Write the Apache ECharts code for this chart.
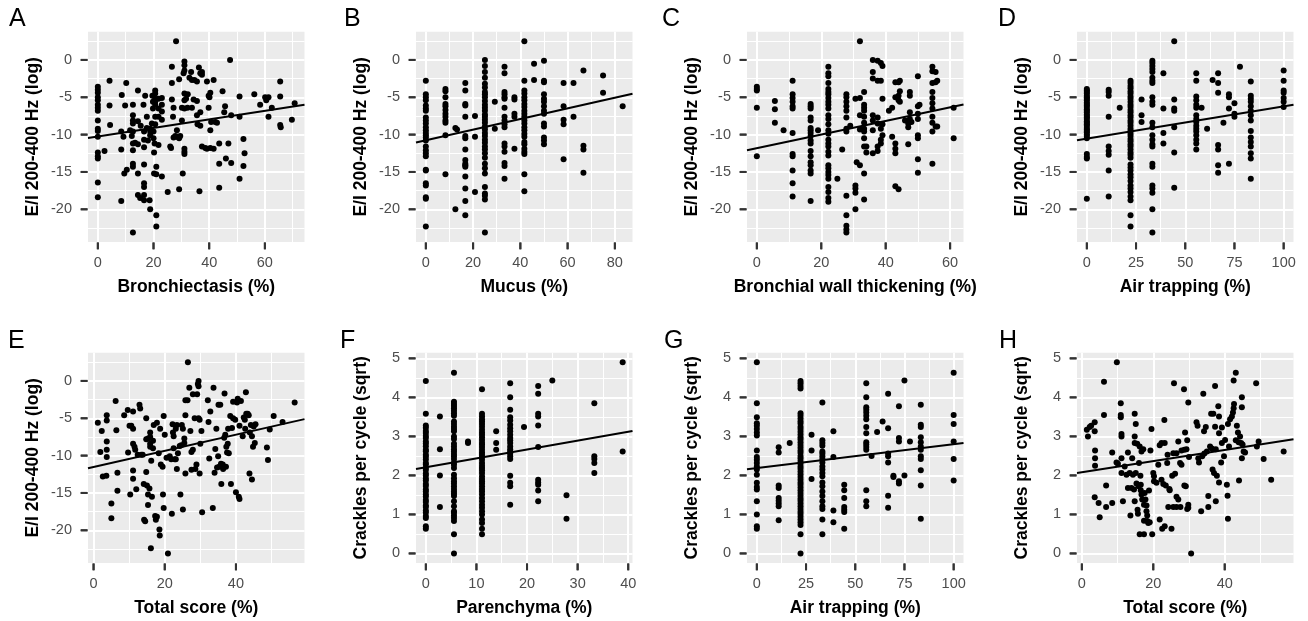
<!DOCTYPE html>
<html><head><meta charset="utf-8">
<script src="https://cdn.jsdelivr.net/npm/echarts@6/dist/echarts.min.js"></script>
<style>html,body{margin:0;padding:0;background:#fff}#c{width:1308px;height:621px}</style>
</head><body><div id="c"></div><script>
// ---------------- DATA ----------------
const panelLetters = ['A','B','C','D','E','F','G','H'];
const xTitles = ['Bronchiectasis (%)','Mucus (%)','Bronchial wall thickening (%)','Air trapping (%)','Total score (%)','Parenchyma (%)','Air trapping (%)','Total score (%)'];
const yTitles = ['E/I 200-400 Hz (log)','E/I 200-400 Hz (log)','E/I 200-400 Hz (log)','E/I 200-400 Hz (log)','E/I 200-400 Hz (log)','Crackles per cycle (sqrt)','Crackles per cycle (sqrt)','Crackles per cycle (sqrt)'];
const xMajorTicks = [[0,20,40,60],[0,20,40,60,80],[0,20,40,60],[0,25,50,75,100],[0,20,40],[0,10,20,30,40],[0,25,50,75,100],[0,20,40]];
const xMinorTicks = [[10,30,50,70],[10,30,50,70],[10,30,50],[12.5,37.5,62.5,87.5],[10,30,50],[5,15,25,35],[12.5,37.5,62.5,87.5],[10,30,50]];
const yMajorEI = [-20,-15,-10,-5,0];
const yMinorEI = [-22.5,-17.5,-12.5,-7.5,-2.5,2.5];
const yMajorCr = [0,1,2,3,4,5];
const yMinorCr = [0.5,1.5,2.5,3.5,4.5];
const fitIntercepts = [-10.25,-10.77,-11.81,-10.54,-11.53,2.21,2.19,2.08];
const fitSlopes = [0.0573,0.0713,0.0911,0.0433,0.1082,0.0227,0.00609,0.01433];

const pointsA = [[0,-3.6],[0,-4.0],[0,-4.4],[0,-5.0],[0,-5.4],[0,-6.0],[0,-6.4],[0,-6.8],[0,-8.1],[0,-9.2],[0,-9.5],[0,-10.3],[0,-12.4],[0,-12.9],[0,-13.2],[0,-16.4],[0,-18.4],
[2.4,-12.2],[4.2,-2.8],[4.2,-6.1],[4.4,-8.7],[8.4,-9.6],[8.4,-12.0],[8.4,-18.9],[8.6,-4.7],[9.2,-10.3],[10.2,-3.1],[9.8,-6.1],[9.5,-15.2],[10.4,-14.7],[11.6,-9.4],[12.2,-10.2],[12.6,-6.0],[12.6,-7.4],[12.6,-8.1],[12.6,-8.5],[12.6,-9.6],[12.6,-11.2],[12.6,-12.1],[12.6,-13.9],[12.6,-14.3],[12.6,-23.1],[13.4,-11.1],[14.4,-4.1],[14.4,-8.2],[14.4,-11.3],[14.4,-15.2],[14.4,-18.1],[15.2,-18.5],[15.4,-8.8],[16.4,-6.0],[16.6,-9.6],[16.6,-10.7],[16.6,-11.7],[16.6,-14.0],[16.6,-16.5],[16.6,-17.0],[16.6,-18.1],[16.6,-18.8],[17.0,-4.8],[17.6,-7.6],[17.6,-9.1],[18.0,-10.8],[18.6,-18.8],[18.8,-9.2],[18.8,-9.6],[18.8,-10.1],[18.8,-20.0],[19.6,-4.8],[19.8,-5.6],[19.8,-6.5],[19.4,-8.5],[20.0,-9.6],[20.0,-10.5],[20.2,-12.4],[20.2,-15.2],[20.4,-11.2],[20.6,-4.1],[20.6,-4.5],[20.6,-5.2],[20.6,-5.6],[20.6,-6.0],[20.6,-7.6],[20.6,-8.6],[21.0,-14.3],[21.0,-15.3],[21.0,-20.8],[21.0,-22.3],[21.8,-5.2],[21.8,-6.5],[21.8,-7.6],[21.8,-11.4],[23.0,-5.1],[23.0,-6.0],[23.0,-6.9],[23.0,-8.0],[23.0,-15.6],[25.1,-17.7],[26.0,-11.6],[26.3,-11.8],[26.6,-0.9],[26.6,-3.1],[26.6,-5.3],[27.0,-7.6],[27.2,-6.4],[27.2,-10.4],[27.8,-10.2],[28.1,2.5],[28.4,-9.4],[28.4,-10.3],[28.7,-10.3],[29.2,-2.6],[29.2,-10.5],[29.2,-17.3],[29.6,-10.2],[30.2,-6.4],[30.2,-8.1],[30.5,-15.2],[30.8,-1.8],[31.1,-0.2],[31.1,-0.7],[31.1,-1.4],[31.1,-4.5],[31.1,-5.4],[31.1,-6.5],[31.1,-11.9],[31.1,-12.3],[31.1,-12.6],[31.7,-5.2],[32.2,-6.4],[32.3,-4.6],[32.9,-2.4],[33.5,-1.6],[33.8,-2.7],[33.8,-6.4],[34.4,-5.3],[34.7,-2.7],[35.6,-2.9],[35.6,-5.5],[35.6,-7.4],[35.8,-8.6],[36.3,-1.0],[36.5,-17.6],[36.8,-1.8],[36.8,-7.0],[36.8,-8.8],[37.4,-1.6],[37.4,-2.0],[37.4,-11.6],[38.6,-11.8],[39.2,-2.9],[39.2,-11.9],[39.8,-4.8],[40.1,-5.0],[39.8,-6.4],[40.4,-9.4],[40.7,-8.3],[40.4,-11.8],[40.4,-4.4],[41.6,-2.7],[41.6,-11.9],[42.2,-8.3],[42.8,-8.4],[43.6,-11.2],[43.6,-13.9],[43.6,-17.1],[44.8,-4.2],[45.4,-7.0],[45.7,-6.2],[46.0,-13.2],[46.9,-11.2],[47.5,0.0],[47.9,-7.4],[47.9,-13.8],[50.9,-4.9],[50.9,-7.6],[50.9,-15.9],[52.3,-10.6],[52.3,-14.2],[52.7,-12.5],[56.2,-4.6],[58.3,-6.0],[60.1,-5.0],[60.5,-5.4],[61.3,-5.0],[61.3,-7.6],[62.5,-6.4],[65.5,-2.9],[65.5,-4.9],[65.5,-8.7],[65.7,-9.0],[69.7,-8.0],[70.7,-5.8]];

const groupsB = [
[0,[-2.8,-4.6,-5.0,-5.4,-6.1,-6.5,-6.8,-7.7,-8.1,-8.5,-9.0,-9.4,-9.8,-10.1,-10.4,-10.8,-11.6,-12.1,-12.5,-12.9,-14.7,-14.8,-16.5,-16.8,-18.4,-18.6,-22.3]],
[8.3,[-3.9,-4.2,-5.0,-5.9,-6.2,-6.7,-7.2,-7.6,-8.1,-8.4,-10.1,-15.3]],
[12.5,[-9.1,-20.0]],[13.2,[-9.3]],
[16.7,[-3.1,-4.1,-5.9,-6.1,-7.6,-10.2,-10.5,-12.0,-13.4,-13.9,-14.1,-14.3,-15.6,-17.2,-18.9,-20.8]],
[20.8,[-7.5,-10.3,-17.7]],
[25,[0,-0.8,-1.6,-2.4,-3.2,-3.7,-4.3,-4.6,-5.0,-5.5,-6.0,-6.4,-6.8,-7.3,-7.6,-8.0,-8.4,-8.9,-9.3,-9.8,-10.2,-10.7,-11.1,-11.6,-12.0,-12.5,-13.1,-13.9,-14.5,-15.2,-17.0,-17.9,-18.2,-18.7,-23.1]],
[29.2,[-5.6,-9.2]],
[33.3,[-0.9,-1.8,-4.3,-4.6,-5.0,-5.2,-6.4,-7.6,-8.1,-8.6,-9.0,-11.2,-11.6,-12.3,-13.8,-14.2,-15.9]],
[37.5,[-5.0,-5.3,-7.2,-7.6,-11.9]],
[41.7,[2.5,-2.8,-4.1,-4.5,-5.0,-5.4,-5.9,-6.3,-6.8,-7.2,-7.6,-8.1,-8.5,-9.0,-9.4,-9.9,-10.3,-11.0,-11.3,-11.9,-12.3,-12.6,-15.3,-17.6]],
[45.8,[-0.5,-2.7]],
[50,[-0.1,-2.8,-3.0,-4.6,-5.2,-5.6,-6.2,-6.8,-7.2,-8.5,-8.9,-10.4,-10.8,-11.3]],
[58.3,[-3.1,-6.2,-8.0,-8.6,-13.3]],
[62.5,[-3.1,-7.6]],
[66.7,[-1.4,-11.5,-12.0,-15.1]],
[75,[-2.1,-4.4]],
[83.3,[-6.2]]];

const groupsC = [
[0,[-3.6,-3.9,-4.1,-6.4,-12.9]],
[5.6,[-5.5,-6.6,-8.4]],[8.3,[-9.4]],
[11.1,[-2.8,-4.6,-5.1,-5.6,-6.2,-6.5,-9.8,-12.6,-12.9,-14.8,-16.5,-18.3]],
[16.7,[-5.9,-6.2,-6.5,-7.7,-8.1,-9.1,-9.4,-9.8,-10.2,-10.8,-11.2,-12.2,-12.9,-13.7,-14.1,-14.8,-15.2,-18.9]],
[19.0,[-9.4]],
[22.2,[-0.9,-1.8,-2.2,-3.1,-3.9,-4.3,-4.6,-5.1,-5.6,-6.0,-6.5,-7.4,-7.9,-8.6,-9.4,-9.9,-10.7,-11.2,-11.6,-12.3,-12.8,-14.1,-14.5,-15.0,-15.4,-15.9,-17.0,-17.7,-18.5,-19.0]],
[25.0,[-15.9]],[26.5,[-12.0]],
[27.8,[-4.6,-5.0,-5.6,-6.2,-6.8,-7.7,-9.2,-9.6,-18.2,-20.8,-22.2,-22.7,-23.1]],
[29.0,[-8.8]],
[30.6,[-5.2,-16.8,-17.2,-17.8,-20.0]],[31.0,[-13.7]],
[32.0,[2.5,-5.1,-7.4,-9.3,-14.1]],
[33.3,[-4.3,-6.0,-6.4,-6.8,-7.6,-8.4,-9.2,-9.6,-10.5,-11.6,-15.2,-18.7]],
[34.0,[-11.6,-12.4]],
[36.0,[0,-1.6,-2.5,-7.4,-8.1,-9.4,-12.5]],
[37.5,[-0.1,-2.8,-7.7,-8.5,-11.6,-12.2]],
[38.5,[-0.4,-2.8,-9.2,-10.7,-11.2]],
[39.0,[-0.8,-5.2,-8.6,-10.1]],
[41.0,[-6.8]],[42.0,[-6.4,-10.3]],
[43.0,[-3.0,-5.0,-11.2,-11.9,-12.5,-16.9]],
[44.0,[-3.0,-4.8,-5.4,-17.3]],
[44.4,[-2.8,-4.2,-5.6]],
[46.0,[-8.1]],[47.0,[-8.5,-9.0,-11.3]],[47.5,[-4.3,-4.8,-7.0,-7.9]],[48.0,[-8.3]],
[50.0,[-2.2,-6.2,-7.2,-7.9,-10.1,-10.5,-13.3,-15.1]],[50.5,[-6.0]],
[54.5,[-0.9,-1.5,-3.1,-4.3,-5.1,-5.8,-6.5,-7.6,-8.4,-9.6,-13.9]],
[55.5,[-1.6,-3.0,-8.9]],[56.0,[-2.8,-8.9]],
[61.1,[-6.4,-10.5]]];

const groupsD = [
[0,[-3.9,-4.1,-4.3,-4.5,-4.8,-5.0,-5.2,-5.4,-5.7,-5.9,-6.1,-6.3,-6.6,-6.8,-7.0,-7.3,-7.5,-7.7,-7.9,-8.2,-8.4,-8.6,-8.8,-9.1,-9.3,-9.5,-9.7,-10.0,-10.2,-10.5,-12.6,-13.0,-13.2,-18.6]],
[11.1,[-4.0,-4.3,-4.8,-7.6,-11.6,-12.2,-12.7,-14.8,-18.3]],
[16.7,[-6.4]],
[22.2,[-2.8,-3.1,-3.5,-3.8,-4.2,-4.5,-4.9,-5.2,-5.6,-6.0,-6.3,-6.7,-7.0,-7.4,-7.7,-8.1,-8.4,-8.8,-9.2,-9.5,-9.9,-10.2,-10.6,-10.9,-11.3,-11.6,-12.0,-12.4,-12.7,-13.1,-14.0,-14.4,-14.8,-15.3,-15.7,-16.2,-16.8,-17.2,-17.7,-18.3,-18.8,-20.8,-22.3]],
[27.8,[-5.3,-7.4,-8.3]],
[33.3,[-0.1,-0.4,-0.8,-1.2,-1.6,-2.4,-2.8,-3.1,-5.0,-5.6,-6.0,-8.4,-9.0,-10.1,-10.7,-11.3,-11.6,-13.9,-14.3,-16.8,-17.2,-17.8,-20.0,-23.1]],
[38.9,[-1.8,-6.5,-9.8,-11.2]],
[44.4,[2.5,-5.3,-6.5,-6.8,-9.0,-12.4,-17.1]],
[55.6,[-1.8,-2.8,-4.9,-5.4,-6.0,-6.4,-7.4,-7.9,-8.3,-8.8,-9.2,-9.6,-10.1,-10.7,-11.2,-12.0]],
[58.3,[-6.4]],[61.1,[-9.2]],[63.9,[-2.7]],
[66.7,[-1.8,-3.1,-4.4,-11.4,-12.0,-14.1,-15.1]],
[69.4,[-8.4]],
[72.2,[-4.6,-5.0,-6.5,-13.9]],
[75,[-5.8,-7.2,-7.6]],
[77.8,[-0.9]],
[83.3,[-2.9,-4.8,-5.2,-5.6,-6.2,-6.8,-7.4,-8.1,-9.5,-10.4,-11.0,-11.6,-12.5,-13.2,-15.9]],
[100,[-1.4,-2.8,-4.1,-4.4,-5.1,-5.6,-6.3]]];

const pointsE = [[1.2,-5.6],[1.9,-9.5],[2.3,-6.7],[2.6,-12.8],[3.6,-12.7],[3.7,-4.6],[3.7,-5.3],[3.7,-8.1],[3.7,-9.2],[3.7,-10.2],[5.0,-16.4],[5.0,-18.4],[6.2,-2.7],[6.4,-6.6],[6.7,-12.3],[6.7,-14.7],[8.6,-4.6],[9.6,-3.9],[9.7,-9.6],[10.1,-6.0],[10.3,-15.2],[10.6,-6.0],[11.1,-4.1],[11.1,-6.4],[11.1,-8.4],[11.1,-12.0],[11.1,-13.1],[11.5,-8.8],[11.7,-9.2],[12.0,-14.5],[12.4,-9.9],[12.9,-3.2],[13.1,-3.7],[13.4,-9.9],[13.8,-9.9],[14.1,-13.8],[14.2,-18.6],[14.5,-18.8],[14.8,-5.0],[14.8,-7.8],[14.8,-12.2],[15.0,-14.0],[15.3,-7.7],[15.3,-15.2],[15.3,-16.6],[15.7,-14.4],[15.9,-6.9],[15.9,-7.5],[15.9,-8.4],[15.9,-8.8],[16.1,-22.4],[16.2,-10.7],[16.4,-15.5],[16.7,-8.0],[16.7,-9.0],[16.9,-5.9],[17.3,-18.1],[17.5,-18.6],[17.8,-5.6],[17.8,-18.2],[18.3,-9.7],[18.5,-19.9],[18.6,-20.7],[18.7,-6.4],[18.9,-11.2],[19.4,-11.5],[19.5,-15.2],[19.7,-4.7],[19.7,-17.0],[20.0,-7.2],[20.5,-10.3],[20.9,-23.1],[21.4,-10.1],[21.8,-10.5],[22.0,-17.8],[22.2,-5.8],[22.3,-6.9],[22.5,-7.4],[22.5,-9.0],[22.8,-10.5],[23.1,-10.5],[23.1,-6.4],[23.4,-5.9],[23.4,-11.8],[23.7,-9.7],[24.2,-8.7],[24.4,-15.2],[24.6,-8.6],[24.8,-5.9],[25.1,-6.4],[25.1,-17.2],[25.5,-7.7],[25.5,-8.3],[25.8,-12.4],[25.8,-4.6],[25.8,-2.6],[26.4,-2.6],[26.5,2.5],[26.9,-0.9],[27.2,-6.7],[27.5,-9.5],[27.5,-11.9],[27.9,-1.8],[27.9,-9.2],[28.4,-5.0],[28.6,-11.8],[28.9,-11.2],[29.1,-1.8],[29.3,-0.4],[29.5,0.0],[29.5,-0.7],[29.5,-5.0],[29.8,-5.2],[29.8,-12.4],[30.0,-8.4],[30.3,-6.7],[30.5,-17.6],[32.1,-2.6],[32.3,-5.5],[32.5,-10.4],[32.8,-4.1],[33.5,-17.0],[33.7,-0.9],[34.0,-12.3],[34.2,-9.1],[34.5,-6.4],[34.7,-11.6],[35.0,-10.1],[35.1,-3.2],[35.3,-11.5],[35.6,-3.2],[35.8,-11.1],[35.9,-13.8],[36.3,-11.2],[36.4,-11.8],[36.7,-7.6],[36.8,-1.7],[37.0,-7.2],[37.2,-11.5],[37.3,-8.8],[37.5,-9.6],[37.7,-8.4],[37.8,-6.4],[38.0,-9.7],[38.4,-4.7],[38.6,-13.8],[38.9,-6.3],[39.2,-2.8],[39.2,-5.0],[39.8,-5.2],[40.0,-14.9],[40.3,-2.9],[40.5,-2.4],[40.8,-15.5],[41.0,-15.8],[41.0,-6.0],[41.4,-2.7],[41.9,-7.4],[42.2,-4.9],[42.5,-5.2],[42.6,-6.4],[42.8,-1.5],[42.9,-4.4],[43.3,-4.4],[43.6,-4.6],[43.8,-12.4],[43.9,-6.9],[44.2,-5.9],[44.5,-13.2],[44.5,-7.4],[44.8,-8.8],[45.0,-6.1],[45.3,-8.3],[45.5,-5.8],[48.7,-8.9],[49.0,-10.6],[49.5,-6.5],[50.6,-4.7],[53.1,-5.5],[56.5,-2.9]];

const groupsF = [
[0,[4.42,3.58,3.28,3.22,3.14,3.09,3.01,2.96,2.87,2.82,2.75,2.66,2.62,2.53,2.48,2.41,2.32,2.28,2.19,2.14,2.05,2.0,1.92,1.87,1.78,1.73,1.64,1.59,1.51,1.46,1.37,1.32,1.23,1.19,1.10,1.05,0.96,0.91,0.70,0.63]],
[2.78,[3.51,2.67,2.0,1.19]],
[5.56,[4.63,3.89,3.83,3.78,3.72,3.66,3.59,3.53,3.38,3.32,3.25,3.19,3.13,3.0,2.93,2.81,2.74,2.67,2.61,2.55,2.49,2.42,2.33,2.27,2.19,2.02,1.93,1.85,1.79,1.72,1.65,1.59,1.53,1.47,1.34,1.21,1.08,1.04,0.97,0.91,0.83,0.49,0.0]],
[8.33,[2.87,2.83]],
[11.1,[4.21,3.58,3.51,3.44,3.38,3.32,3.25,3.17,3.10,3.04,2.98,2.91,2.84,2.79,2.73,2.66,2.59,2.53,2.47,2.40,2.32,2.25,2.19,2.13,2.06,1.98,1.91,1.85,1.79,1.72,1.65,1.59,1.51,1.42,1.34,1.25,1.17,1.08,1.0,0.87,0.78,0.63,0.49]],
[13.9,[3.13,2.83,2.66]],
[16.67,[4.36,4.0,3.68,3.49,3.41,3.3,3.21,3.13,3.04,2.96,2.9,2.83,2.74,2.67,2.61,2.56,2.49,2.42,1.99,1.81,1.72,1.25]],
[19.4,[3.24]],
[22.2,[4.29,4.09,3.58,3.51,3.28,2.73,1.89,1.82,1.76,1.61,1.34]],
[25,[4.43]],
[27.8,[1.49,0.89]],
[33.3,[3.85,2.49,2.42,2.32,2.06]],
[38.9,[4.9,2.61]]];

const groupsG = [
[0,[4.9,3.85,3.49,3.34,3.27,3.19,3.10,3.02,2.64,2.47,2.40,2.32,2.23,2.15,2.02,1.81,1.70,1.64,1.34,1.0,0.70,0.63]],
[11.1,[2.72,2.59,1.74,1.68,1.42,1.35,1.28,1.21,0.85]],
[16.7,[2.83]],
[22.2,[4.42,4.36,4.29,4.23,3.59,3.53,3.46,3.39,3.33,3.25,3.19,3.12,3.05,2.98,2.92,2.85,2.78,2.71,2.64,2.58,2.50,2.44,2.37,2.30,2.23,2.17,2.10,2.03,1.96,1.89,1.82,1.76,1.69,1.62,1.55,1.48,1.41,1.35,1.28,1.21,1.14,1.07,1.01,0.94,0.87,0.80,0.73,0.49,0]],
[27.8,[3.04,2.64,1.91]],
[33.3,[3.87,2.90,2.83,2.76,2.61,2.56,2.49,2.42,2.33,2.23,2.15,2.06,1.98,1.82,1.72,1.59,1.47,1.34,1.21,1.14,0.87,0.49]],
[38.9,[3.13,2.47,1.10,0.80]],
[44.4,[1.76,1.62,1.42,1.19,1.12,1.06,0.63]],
[55.6,[4.36,4.0,3.75,3.68,3.61,3.53,3.44,3.24,3.08,2.85,2.79,2.73,2.66,1.62,1.34,1.21]],
[58.3,[2.50]],[61.1,[3.11]],[63.9,[3.38]],
[66.7,[4.09,3.21,2.56,2.49,2.33,1.48,1.17]],
[69.4,[1.99,1.96]],
[72.2,[3.77,2.96,2.87,1.85,1.79]],
[75,[4.43,2.0]],
[77.8,[2.87]],
[83.3,[3.81,3.30,3.24,2.98,2.85,2.74,2.66,2.49,2.42,2.13,1.74,0.89]],
[100,[4.63,3.55,3.32,2.87,2.42,1.87]]];

const pointsH = [[1.4,3.17],[1.7,3.0],[2.2,3.24],[2.6,3.27],[3.6,3.36],[3.6,3.13],[3.7,2.64],[3.7,2.44],[3.7,2.25],[3.6,1.44],[4.7,1.29],[5.0,0.93],[6.2,4.40],[6.2,3.55],[6.8,1.74],[6.8,1.19],[8.5,2.59],[8.5,1.29],[9.8,4.90],[9.7,2.33],[10.1,2.30],[10.9,3.85],[10.9,3.55],[10.9,3.49],[11.1,3.06],[11.1,3.0],[11.1,2.44],[11.1,2.06],[11.5,1.34],[12.0,2.23],[12.5,2.02],[12.9,2.59],[12.9,1.68],[13.4,2.06],[13.6,0.97],[13.9,1.68],[14.1,2.44],[14.3,2.02],[14.6,1.64],[14.8,3.58],[14.8,3.0],[14.8,2.83],[14.8,1.34],[15.1,3.32],[15.1,2.06],[15.3,1.79],[15.5,2.81],[15.6,1.12],[15.7,1.02],[15.9,1.72],[16.0,2.32],[16.2,2.74],[16.4,1.99],[16.5,1.76],[16.5,1.62],[16.7,1.51],[16.7,2.61],[16.9,1.38],[17.2,2.67],[17.4,1.25],[17.4,0.84],[16.2,0.49],[17.4,0.49],[17.6,1.55],[17.8,1.38],[18.1,1.23],[18.1,1.08],[18.3,0.97],[18.3,0.83],[18.6,0.78],[18.8,1.61],[19.0,0.80],[19.2,2.64],[19.5,3.19],[19.7,0.49],[20.0,2.06],[20.2,1.98],[20.2,1.85],[20.9,1.81],[21.4,2.27],[21.8,2.77],[21.8,0.87],[22.3,2.83],[22.3,1.89],[22.5,0.63],[22.8,1.78],[23.1,3.42],[23.2,2.83],[23.2,0.70],[23.5,1.74],[23.9,2.32],[24.0,2.53],[24.2,1.19],[24.5,1.65],[24.6,1.62],[25.1,0.63],[25.3,1.99],[25.6,2.57],[25.6,1.19],[25.8,4.36],[26.1,2.04],[26.5,2.57],[26.5,1.45],[26.5,1.19],[27.0,2.87],[27.0,1.38],[27.5,2.32],[27.6,1.19],[27.9,2.27],[27.9,2.64],[28.6,4.21],[28.7,2.66],[28.7,1.74],[28.9,3.10],[29.1,1.72],[29.3,2.67],[29.5,2.90],[29.5,1.14],[29.8,3.87],[29.8,1.25],[29.8,1.17],[30.0,2.47],[30.6,0.0],[32.1,3.36],[32.4,3.27],[32.6,2.44],[32.8,2.33],[33.4,1.08],[33.7,2.49],[34.0,4.09],[34.2,3.13],[34.3,2.56],[34.7,3.24],[35.0,2.61],[35.4,1.47],[35.4,1.19],[35.9,2.74],[36.2,3.58],[36.4,2.69],[36.6,2.15],[36.8,3.58],[37.0,2.06],[37.3,4.29],[37.3,3.25],[37.5,2.67],[37.5,1.34],[37.8,1.99],[38.2,3.77],[38.4,3.08],[38.4,1.82],[38.4,3.51],[39.0,2.33],[39.2,3.23],[39.2,2.83],[39.8,2.49],[40.1,2.91],[40.6,1.76],[40.8,1.48],[40.9,3.32],[40.9,0.89],[41.2,2.74],[41.5,3.44],[42.0,3.51],[42.3,3.61],[42.5,3.72],[42.6,3.83],[42.5,4.43],[43.1,4.63],[43.1,2.90],[43.4,3.27],[43.7,3.10],[43.9,2.85],[44.0,1.87],[44.3,3.0],[44.6,2.83],[44.8,3.75],[44.8,4.0],[44.8,2.44],[45.0,2.79],[45.3,2.61],[45.7,2.59],[48.8,4.36],[49.0,2.74],[49.5,2.87],[50.9,2.42],[53.0,1.89],[56.5,2.61]];

// ---------------- BUILD ----------------
function flat(groups){ const out=[]; groups.forEach(g=>g[1].forEach(y=>out.push([g[0],y]))); return out; }
const panelPoints = [pointsA, flat(groupsB), flat(groupsC), flat(groupsD), pointsE, flat(groupsF), flat(groupsG), pointsH];
function expand(vals){ const lo=Math.min(...vals), hi=Math.max(...vals), r=hi-lo; return [lo-0.05*r, hi+0.05*r]; }
const eiRange = expand([].concat(...panelPoints.slice(0,5).map(p=>p.map(d=>d[1]))));
const crRange = expand([].concat(...panelPoints.slice(5).map(p=>p.map(d=>d[1]))));

const FONT = "'Liberation Sans', Arial, Helvetica, sans-serif";
const TICK_LEN = 7;
const gridLeft = [88, 416, 747, 1077];
const gridTop = [31.7, 352.7];
const letterPos = [[9,19],[344,19],[662,19],[998,19],[8,341],[340,341],[664,341],[999,341]];
const grids=[], xAxes=[], yAxes=[], series=[], letters=[], ranges=[];

for (let i=0;i<8;i++){
  const row = Math.floor(i/4), col = i%4;
  grids.push({left:gridLeft[col], top:gridTop[row], width:216.5, height:210.3, show:true, backgroundColor:'#EBEBEB', borderWidth:0});
  const pts = panelPoints[i];
  const xr = expand(pts.map(p=>p[0]));
  const isEI = i<5;
  const yr = isEI ? eiRange : crRange;
  const yMaj = isEI ? yMajorEI : yMajorCr, yMin = isEI ? yMinorEI : yMinorCr;
  ranges.push({xr, yr, yMaj});
  xAxes.push({type:'value', gridIndex:i, min:xr[0], max:xr[1], position:'bottom',
    name:xTitles[i], nameLocation:'middle', nameGap:36,
    nameTextStyle:{fontFamily:FONT, fontSize:17.5, fontWeight:'bold', color:'#000'},
    axisLine:{show:false, onZero:false},
    axisTick:{show:false, customValues:xMajorTicks[i]},
    axisLabel:{show:true, customValues:xMajorTicks[i], margin:13.5, fontFamily:FONT, fontSize:14.5, color:'#4D4D4D'},
    splitLine:{show:true, lineStyle:{color:'#FFFFFF', width:2}}});
  yAxes.push({type:'value', gridIndex:i, min:yr[0], max:yr[1], position:'left',
    name:yTitles[i], nameLocation:'middle', nameGap:46, nameRotate:90,
    nameTextStyle:{fontFamily:FONT, fontSize:17.5, fontWeight:'bold', color:'#000'},
    axisLine:{show:false, onZero:false},
    axisTick:{show:false, customValues:yMaj},
    axisLabel:{show:true, customValues:yMaj, margin:16, fontFamily:FONT, fontSize:14.5, color:'#4D4D4D'},
    splitLine:{show:true, lineStyle:{color:'#FFFFFF', width:2}}});
  series.push({type:'line', xAxisIndex:i, yAxisIndex:i, data:[], silent:true, z:1,
    markLine:{silent:true, z:1, animation:false, symbol:['none','none'], label:{show:false},
      lineStyle:{color:'#FFFFFF', width:1, type:'solid', opacity:1},
      emphasis:{disabled:true},
      data:[...xMinorTicks[i].map(v=>({xAxis:v})), ...yMin.map(v=>({yAxis:v}))]}});
  series.push({type:'scatter', xAxisIndex:i, yAxisIndex:i, data:pts, symbol:'circle', symbolSize:6,
    itemStyle:{color:'#000000', opacity:1}, silent:true, z:3});
  const a = fitIntercepts[i], b = fitSlopes[i];
  series.push({type:'line', xAxisIndex:i, yAxisIndex:i, data:[[xr[0], a+b*xr[0]],[xr[1], a+b*xr[1]]],
    showSymbol:false, symbol:'none', lineStyle:{color:'#000000', width:2}, silent:true, z:4});
  // axis tick marks as rectangle symbols anchored on the panel edge through the axis scales
  series.push({type:'scatter', xAxisIndex:i, yAxisIndex:i, clip:false, silent:true, z:6,
    data:xMajorTicks[i].map(v=>[v, yr[0]]), symbol:'rect', symbolSize:[2, TICK_LEN], symbolOffset:[0, TICK_LEN/2+0.5],
    itemStyle:{color:'#333333', opacity:1}});
  series.push({type:'scatter', xAxisIndex:i, yAxisIndex:i, clip:false, silent:true, z:6,
    data:yMaj.map(v=>[xr[0], v]), symbol:'rect', symbolSize:[TICK_LEN, 2], symbolOffset:[-(TICK_LEN/2+0.5), 0],
    itemStyle:{color:'#333333', opacity:1}});
  letters.push({type:'text', id:'letter'+i, left:letterPos[i][0], top:letterPos[i][1]-12,
    style:{text:panelLetters[i], fontFamily:FONT, fontSize:25, fill:'#000'}});
}

const chart = echarts.init(document.getElementById('c'), null, {renderer:'canvas', width:1308, height:621});
chart.setOption({animation:false, backgroundColor:'#FFFFFF', grid:grids, xAxis:xAxes, yAxis:yAxes, series:series, graphic:letters});

// second, independent way to draw the same tick marks: graphic lines at the pixel positions the grids report
const ticks = [];
for (let i=0;i<8;i++){
  const r = ranges[i];
  const conv = (pt) => { const p = chart.convertToPixel({gridIndex:i}, pt); return (Array.isArray(p) && isFinite(p[0]) && isFinite(p[1])) ? p : null; };
  xMajorTicks[i].forEach((v,k)=>{
    const p = conv([v, r.yr[0]]);
    if (p) ticks.push({type:'line', id:'xt'+i+'_'+k, silent:true, z:50,
      shape:{x1:p[0], y1:p[1]+0.5, x2:p[0], y2:p[1]+TICK_LEN}, style:{stroke:'#333333', lineWidth:2}});
  });
  r.yMaj.forEach((v,k)=>{
    const p = conv([r.xr[0], v]);
    if (p) ticks.push({type:'line', id:'yt'+i+'_'+k, silent:true, z:50,
      shape:{x1:p[0]-TICK_LEN, y1:p[1], x2:p[0]-0.5, y2:p[1]}, style:{stroke:'#333333', lineWidth:2}});
  });
}
chart.setOption({graphic: letters.concat(ticks)});
</script></body></html>
